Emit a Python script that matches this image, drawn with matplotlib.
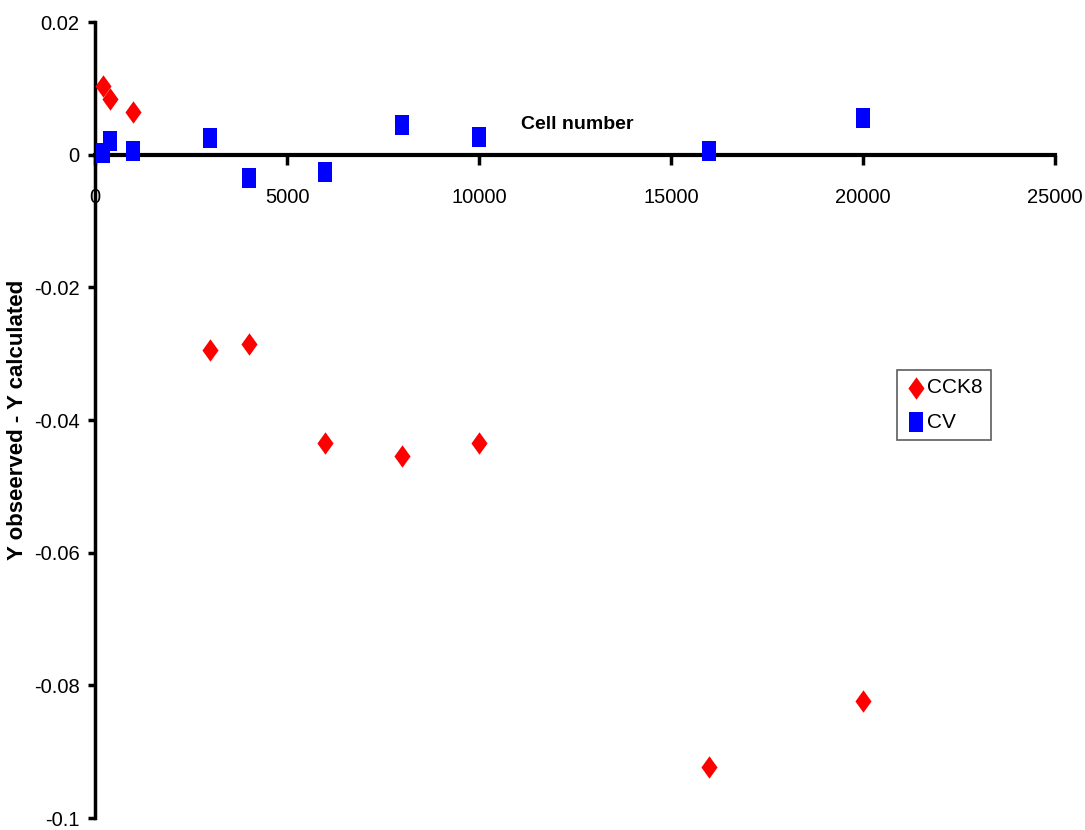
import matplotlib
matplotlib.use("Agg")
import matplotlib.pyplot as plt

# cell numbers and residuals
cells = [200, 400, 1000, 3000, 4000, 6000, 8000, 10000, 16000, 20000]
cck8_resid = [0.0104, 0.0084, 0.0064, -0.0295, -0.0286, -0.0435, -0.0454, -0.0435, -0.0923, -0.0824]
cv_resid = [0.0003, 0.0021, 0.0005, 0.0025, -0.0035, -0.0026, 0.0045, 0.0026, 0.0006, 0.0056]

x_ticks = [0, 5000, 10000, 15000, 20000, 25000]
y_ticks = [0.02, 0, -0.02, -0.04, -0.06, -0.08, -0.1]
y_tick_labels = ["0.02", "0", "-0.02", "-0.04", "-0.06", "-0.08", "-0.1"]

plt.rcParams["font.family"] = ["Liberation Sans", "DejaVu Sans"]
plt.rcParams["font.size"] = 14.5

fig = plt.figure(figsize=(10.85, 8.3), dpi=100)
ax = fig.add_axes([95 / 1085, 12 / 830, 960 / 1085, 796 / 830])

# tall markers, the original looks horizontally squeezed
rect = [(-0.75, -1), (0.75, -1), (0.75, 1), (-0.75, 1), (-0.75, -1)]
diamond = [(0, -1), (0.72, 0), (0, 1), (-0.72, 0), (0, -1)]

ax.scatter(cells, cck8_resid, marker=diamond, s=260, color="#ff0000", linewidths=0, label="CCK8", zorder=3)
ax.scatter(cells, cv_resid, marker=rect, s=200, color="#0000ff", linewidths=0, label="CV", zorder=3)

ax.set_xlim(0, 25000)
ax.set_ylim(-0.1, 0.02)
ax.set_xticks(x_ticks)
ax.set_yticks(y_ticks)
ax.set_yticklabels(y_tick_labels)

ax.spines["top"].set_visible(False)
ax.spines["right"].set_visible(False)
ax.spines["bottom"].set_position(("data", 0))
ax.spines["bottom"].set_linewidth(3)
ax.spines["left"].set_linewidth(2.5)
ax.tick_params(axis="x", direction="out", length=7, width=2.5, pad=17)
ax.tick_params(axis="y", direction="out", length=5, width=2.5, pad=6)

ax.text(12560, 0.0045, "Cell number", fontsize=14, fontweight="bold", ha="center", va="center")
ax.set_ylabel("Y obseerved - Y calculated", fontsize=16, fontweight="bold")
ax.yaxis.label.set_va("center")
ax.yaxis.set_label_coords(-77 / 960, 0.5)

leg = ax.legend(loc="upper left", bbox_to_anchor=(897 / 1085, 1 - 370 / 830),
                bbox_transform=fig.transFigure, frameon=True, fancybox=False,
                edgecolor="#333333", handletextpad=0.05, borderpad=0.4, labelspacing=0.75,
                handlelength=1.0, borderaxespad=0, fontsize=15)
leg.get_frame().set_linewidth(1.2)

fig.savefig("out.png", dpi=100)
